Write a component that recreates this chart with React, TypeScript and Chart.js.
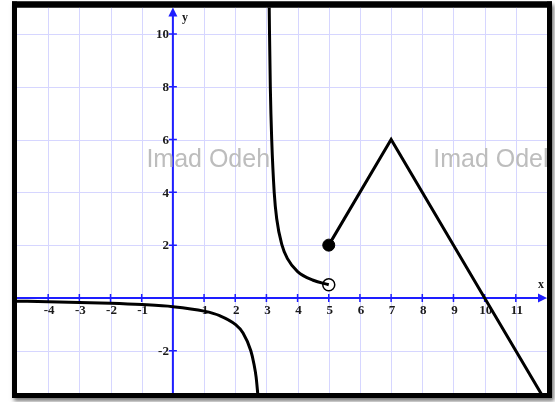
import { useEffect, useRef } from "react";
import { Chart, registerables } from "chart.js";

Chart.register(...registerables);

// Viewing window
const X_MIN = -5;
const X_MAX = 12;
const Y_MIN = -3.6;
const Y_MAX = 11;

// Tick labels along each axis
const xTickValues = [-4, -3, -2, -1, 1, 2, 3, 4, 5, 6, 7, 8, 9, 10, 11];
const yTickValues = [-2, 2, 4, 6, 8, 10];
const xGridValues = [-4, -3, -2, -1, 0, 1, 2, 3, 4, 5, 6, 7, 8, 9, 10, 11];
const yGridValues = [-2, 0, 2, 4, 6, 8, 10];

// Branch left of the asymptote x = 3
const leftBranchX = [-5, -4, -3, -2, -1, 0, 1, 1.5, 2, 2.25, 2.5, 2.6, 2.67, 2.72, 2.75];
const leftBranchY = [-0.125, -0.14, -0.17, -0.2, -0.25, -0.33, -0.5, -0.67, -1, -1.33, -2, -2.5, -3, -3.6, -4];

// Branch right of the asymptote, ending at the open circle
const rightBranchX = [3.08, 3.09, 3.1, 3.125, 3.17, 3.25, 3.33, 3.5, 3.67, 4, 4.5, 5];
const rightBranchY = [12.5, 11, 10, 8, 6, 4, 3, 2, 1.5, 1, 0.67, 0.5];

// Straight pieces starting at the closed dot
const lineX = [5, 7, 10, 12];
const lineY = [2, 6, 0, -4];

// End points
const closedDot = { x: 5, y: 2 };
const openDot = { x: 5, y: 0.5 };

const watermarkText = "Imad Odeh";
const watermarkSpots = [{ x: -0.85, y: 4.95 }, { x: 8.35, y: 4.95 }];

const toPoints = (xs: number[], ys: number[]) => xs.map((x, i) => ({ x, y: ys[i] }));

const AXIS_BLUE = "#1e1eff";
const GRID_BLUE = "#d6d6ff";
const LABEL_FONT = "bold 13px 'Liberation Serif', 'Times New Roman', serif";

const gridAxesPlugin = {
  id: "gridAxes",
  beforeDraw(chart: any) {
    const { ctx, chartArea: a } = chart;
    ctx.save();
    ctx.fillStyle = "#ffffff";
    ctx.fillRect(0, 0, chart.width, chart.height);
    // framed panel with a soft drop shadow
    ctx.shadowColor = "rgba(0,0,0,0.55)";
    ctx.shadowBlur = 4;
    ctx.shadowOffsetX = 2;
    ctx.shadowOffsetY = 3;
    ctx.fillStyle = "#000000";
    ctx.fillRect(a.left - 5, a.top - 6, a.right - a.left + 10, a.bottom - a.top + 11);
    ctx.shadowColor = "transparent";
    ctx.fillStyle = "#ffffff";
    ctx.fillRect(a.left, a.top, a.right - a.left, a.bottom - a.top);
    ctx.restore();
  },
  beforeDatasetsDraw(chart: any) {
    const { ctx, chartArea: a, scales } = chart;
    const xs = scales.x;
    const ys = scales.y;
    ctx.save();
    ctx.beginPath();
    ctx.rect(a.left, a.top, a.right - a.left, a.bottom - a.top);
    ctx.clip();

    // grid
    ctx.strokeStyle = GRID_BLUE;
    ctx.lineWidth = 1;
    xGridValues.forEach((v) => {
      const px = Math.round(xs.getPixelForValue(v)) + 0.5;
      ctx.beginPath();
      ctx.moveTo(px, a.top);
      ctx.lineTo(px, a.bottom);
      ctx.stroke();
    });
    yGridValues.forEach((v) => {
      const py = Math.round(ys.getPixelForValue(v)) + 0.5;
      ctx.beginPath();
      ctx.moveTo(a.left, py);
      ctx.lineTo(a.right, py);
      ctx.stroke();
    });

    // axes
    const x0 = xs.getPixelForValue(0);
    const y0 = ys.getPixelForValue(0);
    ctx.strokeStyle = AXIS_BLUE;
    ctx.fillStyle = AXIS_BLUE;
    ctx.lineWidth = 2;
    ctx.beginPath();
    ctx.moveTo(a.left, y0);
    ctx.lineTo(a.right - 4, y0);
    ctx.moveTo(x0, a.bottom);
    ctx.lineTo(x0, a.top + 4);
    ctx.stroke();
    // arrow heads
    ctx.beginPath();
    ctx.moveTo(a.right, y0);
    ctx.lineTo(a.right - 9, y0 - 4.5);
    ctx.lineTo(a.right - 9, y0 + 4.5);
    ctx.closePath();
    ctx.fill();
    ctx.beginPath();
    ctx.moveTo(x0, a.top);
    ctx.lineTo(x0 - 4.5, a.top + 9);
    ctx.lineTo(x0 + 4.5, a.top + 9);
    ctx.closePath();
    ctx.fill();

    // tick marks
    ctx.lineWidth = 1.5;
    xTickValues.forEach((v) => {
      const px = xs.getPixelForValue(v);
      ctx.beginPath();
      ctx.moveTo(px, y0 - 4);
      ctx.lineTo(px, y0 + 4);
      ctx.stroke();
    });
    yTickValues.forEach((v) => {
      const py = ys.getPixelForValue(v);
      ctx.beginPath();
      ctx.moveTo(x0 - 4, py);
      ctx.lineTo(x0 + 4, py);
      ctx.stroke();
    });

    // tick labels
    ctx.fillStyle = "#1a1a1a";
    ctx.font = LABEL_FONT;
    ctx.textAlign = "center";
    ctx.textBaseline = "middle";
    xTickValues.forEach((v) => {
      ctx.fillText(String(v), xs.getPixelForValue(v) + 1, y0 + 13);
    });
    ctx.textAlign = "right";
    yTickValues.forEach((v) => {
      ctx.fillText(String(v), x0 - 4, ys.getPixelForValue(v) + 1);
    });
    ctx.font = "bold 12px 'Liberation Serif', 'Times New Roman', serif";
    ctx.textAlign = "center";
    ctx.fillText("x", a.right - 6, y0 - 13);
    ctx.fillText("y", x0 + 12, a.top + 10);

    // watermark
    ctx.fillStyle = "#bdbdbd";
    ctx.font = "25px 'Liberation Sans', Arial, sans-serif";
    ctx.textAlign = "left";
    ctx.textBaseline = "alphabetic";
    watermarkSpots.forEach((s) => {
      ctx.fillText(watermarkText, xs.getPixelForValue(s.x), ys.getPixelForValue(s.y));
    });
    ctx.restore();
  },
  afterDraw(chart: any) {
    const { ctx, chartArea: a } = chart;
    ctx.save();
    ctx.fillStyle = "#000000";
    ctx.fillRect(a.left - 5, a.top - 6, 5, a.bottom - a.top + 11);
    ctx.fillRect(a.right, a.top - 6, 5, a.bottom - a.top + 11);
    ctx.fillRect(a.left - 5, a.top - 6, a.right - a.left + 10, 6);
    ctx.fillRect(a.left - 5, a.bottom, a.right - a.left + 10, 5);
    ctx.restore();
  },
};

export default function App() {
  const canvasRef = useRef<HTMLCanvasElement | null>(null);

  useEffect(() => {
    document.body.style.margin = "0";
    const canvas = canvasRef.current;
    if (!canvas) return;
    const curveStyle = {
      showLine: true,
      borderColor: "#000000",
      borderWidth: 3,
      pointRadius: 0,
      pointHoverRadius: 0,
      fill: false,
    };
    const chart = new Chart(canvas, {
      type: "scatter",
      data: {
        datasets: [
          { ...curveStyle, data: toPoints(leftBranchX, leftBranchY), cubicInterpolationMode: "monotone" },
          { ...curveStyle, data: toPoints(rightBranchX, rightBranchY), cubicInterpolationMode: "monotone" },
          { ...curveStyle, data: toPoints(lineX, lineY), tension: 0 },
          {
            data: [closedDot],
            showLine: false,
            pointRadius: 6,
            pointBackgroundColor: "#000000",
            pointBorderColor: "#000000",
            pointBorderWidth: 1,
          },
          {
            data: [openDot],
            showLine: false,
            pointRadius: 6,
            pointBackgroundColor: "#ffffff",
            pointBorderColor: "#000000",
            pointBorderWidth: 1.5,
          },
        ],
      },
      options: {
        responsive: false,
        animation: false,
        events: [],
        layout: { padding: { left: 17, top: 5, right: 8, bottom: 9 } },
        plugins: { legend: { display: false }, tooltip: { enabled: false } },
        scales: {
          x: { type: "linear", min: X_MIN, max: X_MAX, display: false },
          y: { type: "linear", min: Y_MIN, max: Y_MAX, display: false },
        },
      },
      plugins: [gridAxesPlugin],
    });
    return () => chart.destroy();
  }, []);

  return (
    <div style={{ width: 555, height: 402 }}>
      <canvas ref={canvasRef} width={555} height={402} />
    </div>
  );
}
